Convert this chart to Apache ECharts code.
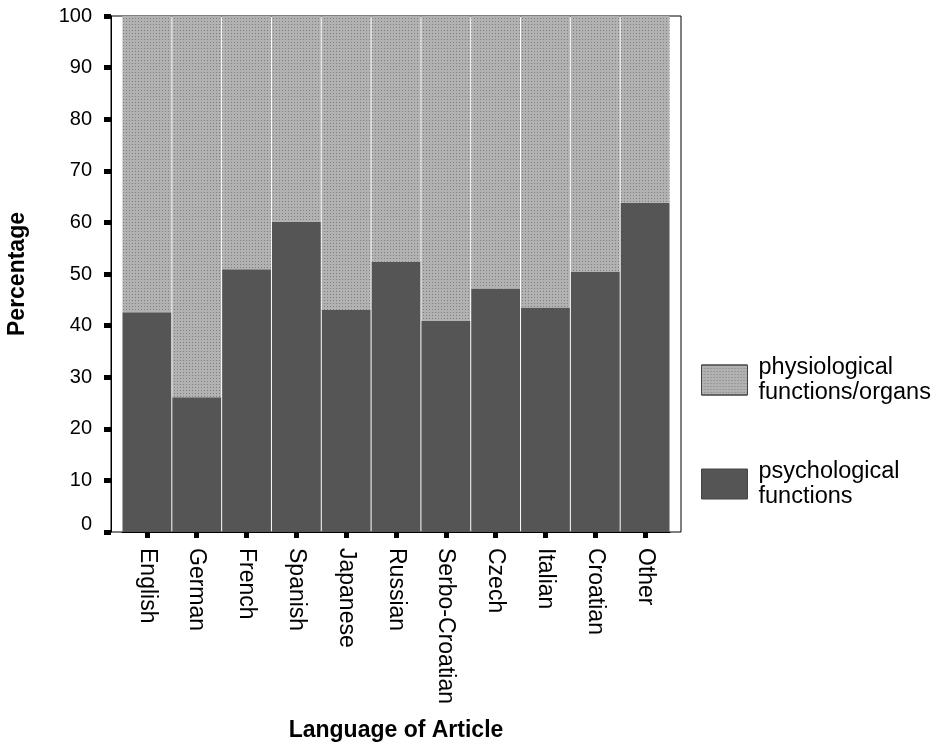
<!DOCTYPE html>
<html>
<head>
<meta charset="utf-8">
<script src="https://cdn.jsdelivr.net/npm/echarts@6/dist/echarts.min.js"></script>
<style>
html,body{margin:0;padding:0;background:#fff;}
#chart{width:942px;height:742px;}
</style>
</head>
<body>
<div id="chart"></div>
<script>
var categories = ['English','German','French','Spanish','Japanese','Russian','Serbo-Croatian','Czech','Italian','Croatian','Other'];
var psychological = [42.6, 26.1, 50.9, 60.1, 43.0, 52.4, 40.9, 47.2, 43.5, 50.4, 63.8];
var physiological = [57.4, 73.9, 49.1, 39.9, 57.0, 47.6, 59.1, 52.8, 56.5, 49.6, 36.2];
var yTicks = [0, 10, 20, 30, 40, 50, 60, 70, 80, 90, 100];
var seriesNames = ['psychological\nfunctions', 'physiological\nfunctions/organs'];

var chart = echarts.init(document.getElementById('chart'), null, {renderer: 'canvas'});
var font = 'Liberation Sans, Arial, sans-serif';
var option = {
  animation: false,
  textStyle: {fontFamily: font},
  grid: [
    {left: 111, top: 16, width: 570, height: 516, show: true, borderColor: '#000', borderWidth: 1, backgroundColor: 'transparent', outerBoundsMode: 'none', containLabel: false},
    {left: 122, top: 16, width: 548, height: 516, outerBoundsMode: 'none', containLabel: false}
  ],
  legend: {
    orient: 'vertical',
    left: 696,
    top: 350,
    itemWidth: 46,
    itemHeight: 30,
    itemGap: 54,
    icon: 'rect',
    data: [seriesNames[1], seriesNames[0]],
    itemStyle: {borderColor: '#444', borderWidth: 1},
    textStyle: {fontSize: 23.5, color: '#000', lineHeight: 25, fontFamily: font, padding: [0, 0, 0, 6]}
  },
  xAxis: [
    {gridIndex: 0, type: 'value', show: false, min: 0, max: 1},
    {
      gridIndex: 1, type: 'category', data: categories,
      axisLine: {show: true, lineStyle: {color: '#000', width: 1}},
      axisTick: {show: true, alignWithLabel: true, length: 6, lineStyle: {color: '#000', width: 5}},
      axisLabel: {rotate: -90, fontSize: 23, color: '#000', margin: 16, fontFamily: font, interval: 0},
      name: 'Language of Article', nameLocation: 'middle', nameGap: 187,
      nameTextStyle: {fontSize: 23, fontWeight: 'bold', color: '#000', fontFamily: font}
    }
  ],
  yAxis: [
    {gridIndex: 0, type: 'value', show: false, min: 0, max: 1},
    {
      gridIndex: 1, type: 'value', min: yTicks[0], max: yTicks[yTicks.length - 1], interval: 10,
      offset: 11,
      axisLine: {show: true, lineStyle: {color: '#000', width: 1}},
      axisTick: {show: true, length: 7, lineStyle: {color: '#000', width: 5}},
      splitLine: {show: false},
      axisLabel: {
        fontSize: 20, color: '#000', margin: 19, fontFamily: font,
        formatter: function (v) { return v === 0 ? '{z|0}' : String(v); },
        rich: {z: {fontSize: 20, color: '#000', fontFamily: font, padding: [0, 0, 16, 0]}}
      },
      name: 'Percentage', nameLocation: 'middle', nameRotate: 90, nameGap: 82,
      nameTextStyle: {fontSize: 23, fontWeight: 'bold', color: '#000', fontFamily: font}
    }
  ],
  series: [
    {
      name: seriesNames[0], type: 'bar', stack: 'total', xAxisIndex: 1, yAxisIndex: 1,
      data: psychological, barCategoryGap: '2%',
      itemStyle: {color: '#555555'}
    },
    {
      name: seriesNames[1], type: 'bar', stack: 'total', xAxisIndex: 1, yAxisIndex: 1,
      data: physiological, barCategoryGap: '2%',
      itemStyle: {
        color: '#b2b2b2',
        decal: {symbol: 'rect', symbolSize: 1, dashArrayX: [1, 2], dashArrayY: [1, 2], color: '#7e7e7e'}
      }
    }
  ]
};
chart.setOption(option);
</script>
</body>
</html>
